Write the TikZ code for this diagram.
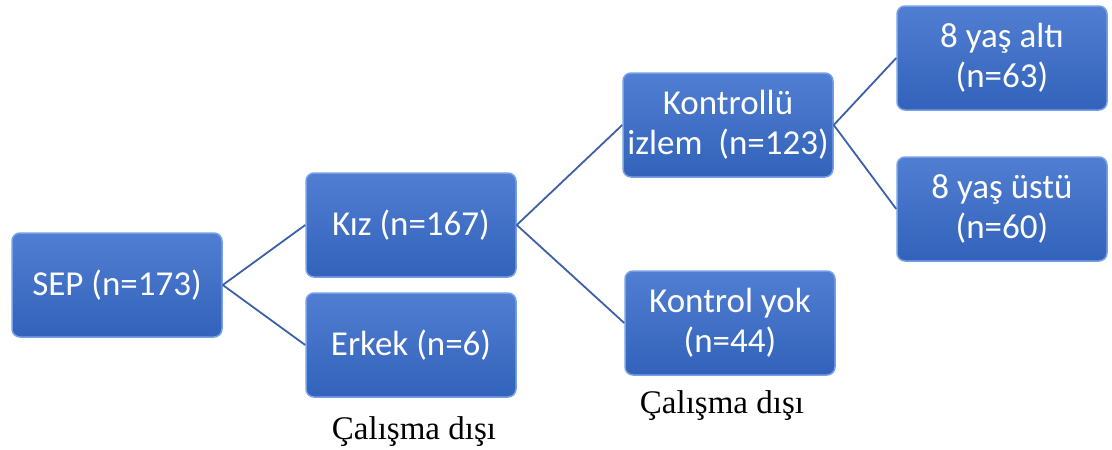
\documentclass[tikz,border=0pt]{standalone}
\usepackage{fontspec}
\setmainfont{Carlito}
\newfontfamily\timesf{Liberation Serif}
\definecolor{boxtop}{RGB}{80,126,210}
\definecolor{boxbot}{RGB}{50,98,186}
\definecolor{boxedge}{RGB}{120,160,230}
\definecolor{linec}{RGB}{60,96,168}
\begin{document}
\begin{tikzpicture}[x=1pt,y=-1pt,
  box/.style={rounded corners=8pt, minimum width=210pt, minimum height=104pt,
    top color=boxtop, bottom color=boxbot, draw=boxedge, line width=1.5pt,
    text=white, align=center, font=\fontsize{35}{40}\selectfont, inner sep=0pt},
  conn/.style={draw=linec, line width=1.8pt},
  note/.style={font=\timesf\fontsize{33}{36}\selectfont, text=black}]
\useasboundingbox (0,0) rectangle (1112,450);
\node[box] (sep) at (117,285) {SEP (n=173)};
\node[box] (kiz) at (411,225) {Kız (n=167)};
\node[box] (erkek) at (411,345) {Erkek (n=6)};
\node[box] (kontrollu) at (728,125) {Kontrollü\\izlem~~(n=123)};
\node[box] (kontrolyok) at (730,323) {Kontrol yok\\(n=44)};
\node[box] (alti) at (1002,58) {8 yaş altı\\(n=63)};
\node[box] (ustu) at (1002,209) {8 yaş üstü\\(n=60)};
\draw[conn] (sep.east) -- (kiz.west);
\draw[conn] (sep.east) -- (erkek.west);
\draw[conn] (kiz.east) -- (kontrollu.west);
\draw[conn] (kiz.east) -- (kontrolyok.west);
\draw[conn] (kontrollu.east) -- (alti.west);
\draw[conn] (kontrollu.east) -- (ustu.west);
\node[note] (n1) at (414,432) {Çalışma dışı};
\node[note] (n2) at (722,406) {Çalışma dışı};
\end{tikzpicture}
\end{document}
